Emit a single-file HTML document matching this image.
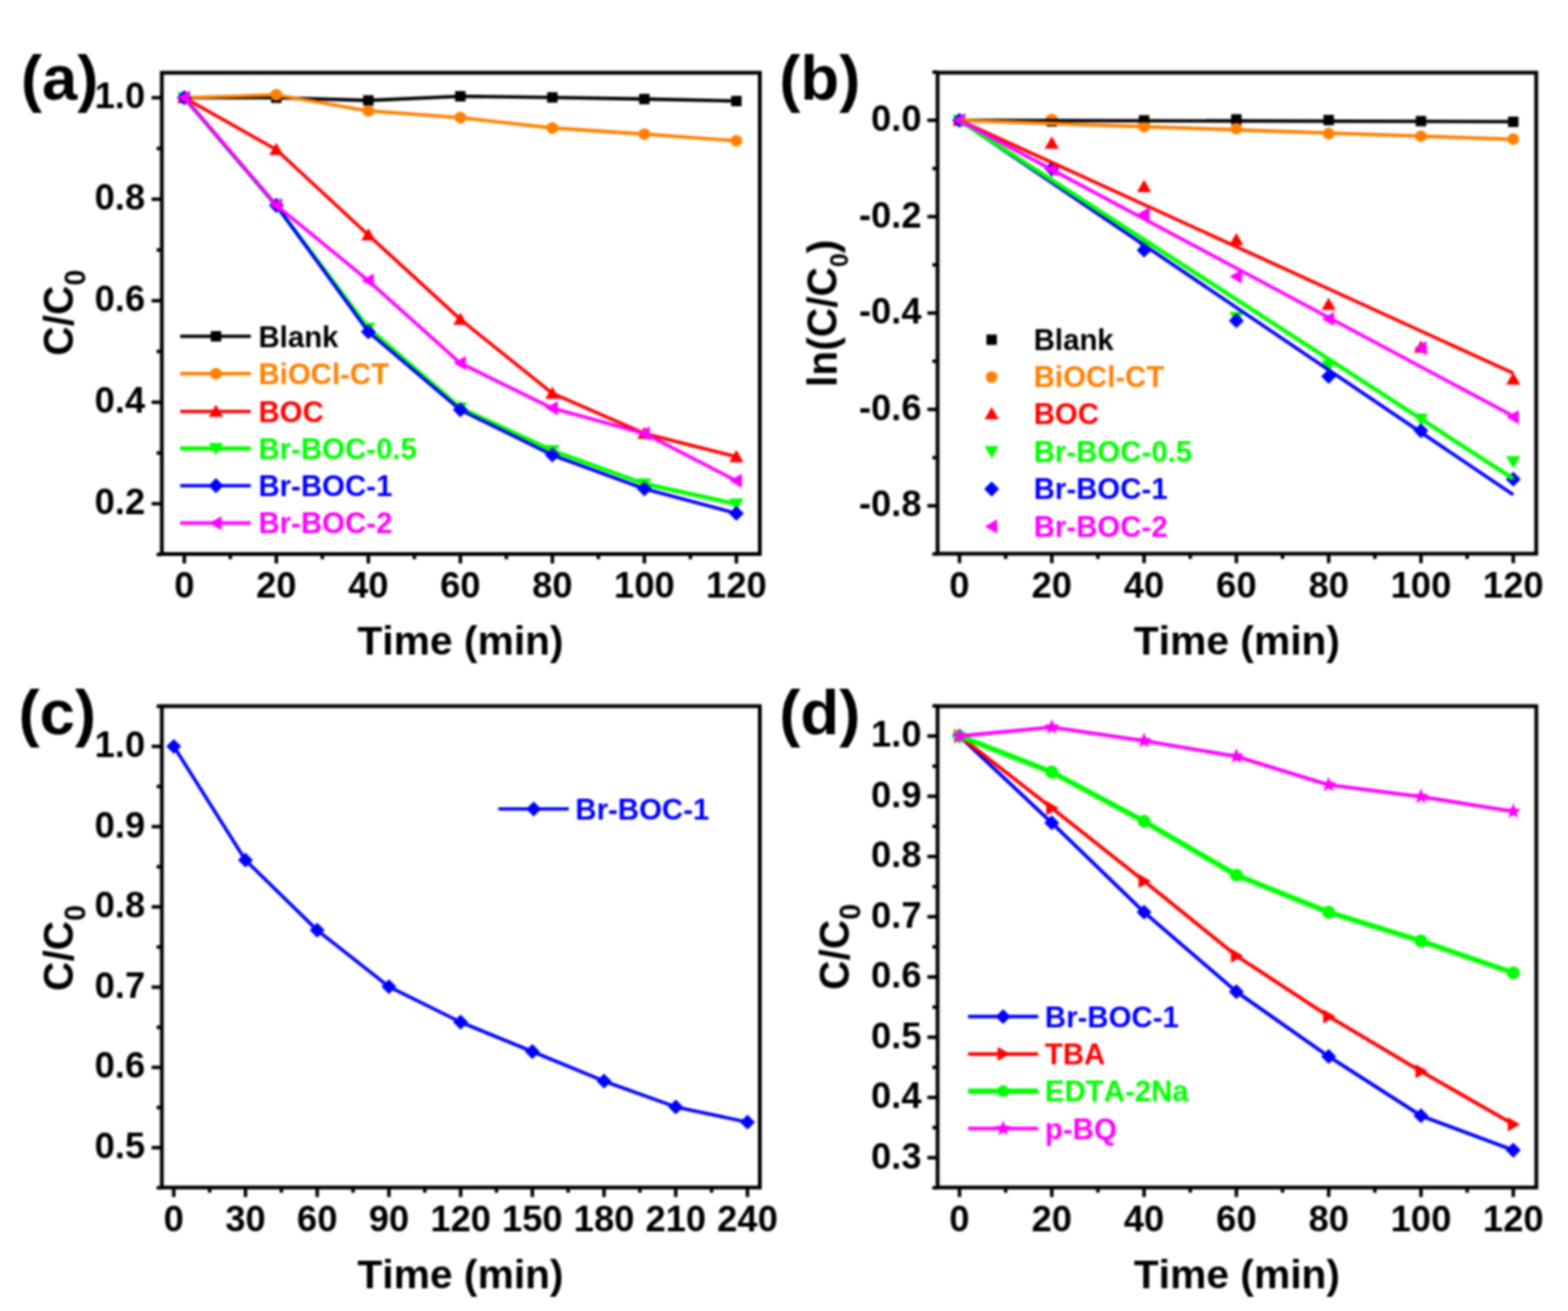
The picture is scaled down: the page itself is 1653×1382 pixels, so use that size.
<!DOCTYPE html>
<html lang="en">
<head>
<meta charset="utf-8">
<title>Photocatalytic degradation figure</title>
<style>
html,body{margin:0;padding:0;background:#fff;}
body{width:1653px;height:1382px;overflow:hidden;}
svg{display:block;}
svg text{font-family:"Liberation Sans", sans-serif;font-weight:bold;font-kerning:none;}
</style>
</head>
<body>
<svg width="1653" height="1382" viewBox="0 0 1653 1382">
<defs><filter id="soft" x="0" y="0" width="1653" height="1382" filterUnits="userSpaceOnUse" color-interpolation-filters="sRGB"><feGaussianBlur in="SourceGraphic" stdDeviation="1"/></filter></defs>
<rect x="0" y="0" width="1653" height="1382" fill="#ffffff"/>
<g filter="url(#soft)">
<rect x="0" y="0" width="1653" height="1382" fill="#ffffff"/>
<g id="panel-a">
<polyline points="194.3,103 291.3,103 388.3,105.9 485.3,101.5 582.3,102.7 679.3,104.4 776.3,106.5" fill="none" stroke="#000000" stroke-width="3.6" stroke-linejoin="round"/>
<rect x="188.8" y="97.5" width="11" height="11" fill="#000000"/>
<rect x="285.8" y="97.5" width="11" height="11" fill="#000000"/>
<rect x="382.8" y="100.4" width="11" height="11" fill="#000000"/>
<rect x="479.8" y="96" width="11" height="11" fill="#000000"/>
<rect x="576.8" y="97.2" width="11" height="11" fill="#000000"/>
<rect x="673.8" y="98.9" width="11" height="11" fill="#000000"/>
<rect x="770.8" y="101" width="11" height="11" fill="#000000"/>
<polyline points="194.3,103 291.3,99.9 388.3,116.9 485.3,124 582.3,134.9 679.3,141.4 776.3,148.4" fill="none" stroke="#FF8000" stroke-width="3.6" stroke-linejoin="round"/>
<circle cx="194.3" cy="103" r="6.2" fill="#FF8000"/>
<circle cx="291.3" cy="99.9" r="6.2" fill="#FF8000"/>
<circle cx="388.3" cy="116.9" r="6.2" fill="#FF8000"/>
<circle cx="485.3" cy="124" r="6.2" fill="#FF8000"/>
<circle cx="582.3" cy="134.9" r="6.2" fill="#FF8000"/>
<circle cx="679.3" cy="141.4" r="6.2" fill="#FF8000"/>
<circle cx="776.3" cy="148.4" r="6.2" fill="#FF8000"/>
<polyline points="194.3,103 291.3,157.8 388.3,247.7 485.3,336.7 582.3,414.6 679.3,456.9 776.3,481.4" fill="none" stroke="#FF0000" stroke-width="3.6" stroke-linejoin="round"/>
<polygon points="186.8,108.8 201.8,108.8 194.3,95.8" fill="#FF0000"/>
<polygon points="283.8,163.6 298.8,163.6 291.3,150.6" fill="#FF0000"/>
<polygon points="380.8,253.5 395.8,253.5 388.3,240.5" fill="#FF0000"/>
<polygon points="477.8,342.5 492.8,342.5 485.3,329.5" fill="#FF0000"/>
<polygon points="574.8,420.4 589.8,420.4 582.3,407.4" fill="#FF0000"/>
<polygon points="671.8,462.7 686.8,462.7 679.3,449.7" fill="#FF0000"/>
<polygon points="768.8,487.2 783.8,487.2 776.3,474.2" fill="#FF0000"/>
<polyline points="194.3,103 291.3,217 388.3,346 485.3,430 582.3,475 679.3,510 776.3,531.4" fill="none" stroke="#00FF00" stroke-width="4.4" stroke-linejoin="round"/>
<polygon points="186.8,97.2 201.8,97.2 194.3,110.2" fill="#00FF00"/>
<polygon points="283.8,211.2 298.8,211.2 291.3,224.2" fill="#00FF00"/>
<polygon points="380.8,340.2 395.8,340.2 388.3,353.2" fill="#00FF00"/>
<polygon points="477.8,424.2 492.8,424.2 485.3,437.2" fill="#00FF00"/>
<polygon points="574.8,469.2 589.8,469.2 582.3,482.2" fill="#00FF00"/>
<polygon points="671.8,504.2 686.8,504.2 679.3,517.2" fill="#00FF00"/>
<polygon points="768.8,525.6 783.8,525.6 776.3,538.6" fill="#00FF00"/>
<polyline points="194.3,103 291.3,216.5 388.3,349.8 485.3,432.1 582.3,479.7 679.3,515.3 776.3,541.2" fill="none" stroke="#0000FF" stroke-width="3.6" stroke-linejoin="round"/>
<polygon points="186.4,103 194.3,95.1 202.2,103 194.3,110.9" fill="#0000FF"/>
<polygon points="283.4,216.5 291.3,208.6 299.2,216.5 291.3,224.4" fill="#0000FF"/>
<polygon points="380.4,349.8 388.3,341.9 396.2,349.8 388.3,357.7" fill="#0000FF"/>
<polygon points="477.4,432.1 485.3,424.2 493.2,432.1 485.3,440" fill="#0000FF"/>
<polygon points="574.4,479.7 582.3,471.8 590.2,479.7 582.3,487.6" fill="#0000FF"/>
<polygon points="671.4,515.3 679.3,507.4 687.2,515.3 679.3,523.2" fill="#0000FF"/>
<polygon points="768.4,541.2 776.3,533.3 784.2,541.2 776.3,549.1" fill="#0000FF"/>
<polyline points="194.3,103 291.3,216.3 388.3,295.8 485.3,382.8 582.3,430.3 679.3,456.9 776.3,506.8" fill="none" stroke="#FF00FF" stroke-width="3.6" stroke-linejoin="round"/>
<polygon points="200.1,95.5 200.1,110.5 187.1,103" fill="#FF00FF"/>
<polygon points="297.1,208.8 297.1,223.8 284.1,216.3" fill="#FF00FF"/>
<polygon points="394.1,288.3 394.1,303.3 381.1,295.8" fill="#FF00FF"/>
<polygon points="491.1,375.3 491.1,390.3 478.1,382.8" fill="#FF00FF"/>
<polygon points="588.1,422.8 588.1,437.8 575.1,430.3" fill="#FF00FF"/>
<polygon points="685.1,449.4 685.1,464.4 672.1,456.9" fill="#FF00FF"/>
<polygon points="782.1,499.3 782.1,514.3 769.1,506.8" fill="#FF00FF"/>
<rect x="170.6" y="76.7" width="630.4" height="507.3" fill="none" stroke="#000" stroke-width="4.0"/>
<line x1="194.3" y1="584" x2="194.3" y2="594" stroke="#000" stroke-width="3.7"/>
<line x1="291.3" y1="584" x2="291.3" y2="594" stroke="#000" stroke-width="3.7"/>
<line x1="388.3" y1="584" x2="388.3" y2="594" stroke="#000" stroke-width="3.7"/>
<line x1="485.3" y1="584" x2="485.3" y2="594" stroke="#000" stroke-width="3.7"/>
<line x1="582.3" y1="584" x2="582.3" y2="594" stroke="#000" stroke-width="3.7"/>
<line x1="679.3" y1="584" x2="679.3" y2="594" stroke="#000" stroke-width="3.7"/>
<line x1="776.3" y1="584" x2="776.3" y2="594" stroke="#000" stroke-width="3.7"/>
<line x1="242.8" y1="584" x2="242.8" y2="589.5" stroke="#000" stroke-width="3.7"/>
<line x1="339.8" y1="584" x2="339.8" y2="589.5" stroke="#000" stroke-width="3.7"/>
<line x1="436.8" y1="584" x2="436.8" y2="589.5" stroke="#000" stroke-width="3.7"/>
<line x1="533.8" y1="584" x2="533.8" y2="589.5" stroke="#000" stroke-width="3.7"/>
<line x1="630.8" y1="584" x2="630.8" y2="589.5" stroke="#000" stroke-width="3.7"/>
<line x1="727.8" y1="584" x2="727.8" y2="589.5" stroke="#000" stroke-width="3.7"/>
<text x="194.3" y="630" font-size="38.3" text-anchor="middle">0</text>
<text x="291.3" y="630" font-size="38.3" text-anchor="middle">20</text>
<text x="388.3" y="630" font-size="38.3" text-anchor="middle">40</text>
<text x="485.3" y="630" font-size="38.3" text-anchor="middle">60</text>
<text x="582.3" y="630" font-size="38.3" text-anchor="middle">80</text>
<text x="679.3" y="630" font-size="38.3" text-anchor="middle">100</text>
<text x="776.3" y="630" font-size="38.3" text-anchor="middle">120</text>
<line x1="170.6" y1="103" x2="159.8" y2="103" stroke="#000" stroke-width="3.7"/>
<line x1="170.6" y1="210" x2="159.8" y2="210" stroke="#000" stroke-width="3.7"/>
<line x1="170.6" y1="317" x2="159.8" y2="317" stroke="#000" stroke-width="3.7"/>
<line x1="170.6" y1="424" x2="159.8" y2="424" stroke="#000" stroke-width="3.7"/>
<line x1="170.6" y1="531" x2="159.8" y2="531" stroke="#000" stroke-width="3.7"/>
<line x1="170.6" y1="156.5" x2="165.1" y2="156.5" stroke="#000" stroke-width="3.7"/>
<line x1="170.6" y1="263.5" x2="165.1" y2="263.5" stroke="#000" stroke-width="3.7"/>
<line x1="170.6" y1="370.5" x2="165.1" y2="370.5" stroke="#000" stroke-width="3.7"/>
<line x1="170.6" y1="477.5" x2="165.1" y2="477.5" stroke="#000" stroke-width="3.7"/>
<line x1="170.6" y1="584.5" x2="165.1" y2="584.5" stroke="#000" stroke-width="3.7"/>
<text x="153" y="114.2" font-size="38.3" text-anchor="end">1.0</text>
<text x="153" y="221.2" font-size="38.3" text-anchor="end">0.8</text>
<text x="153" y="328.2" font-size="38.3" text-anchor="end">0.6</text>
<text x="153" y="435.2" font-size="38.3" text-anchor="end">0.4</text>
<text x="153" y="542.2" font-size="38.3" text-anchor="end">0.2</text>
<line x1="190" y1="354.5" x2="264.4" y2="354.5" stroke="#000000" stroke-width="3.6"/>
<rect x="222.2" y="349" width="11" height="11" fill="#000000"/>
<text x="272.4" y="365.5" font-size="31" fill="#000000">Blank</text>
<line x1="190" y1="393.9" x2="264.4" y2="393.9" stroke="#FF8000" stroke-width="3.6"/>
<circle cx="227.7" cy="393.9" r="6.2" fill="#FF8000"/>
<text x="272.4" y="404.9" font-size="31" fill="#FF8000">BiOCl-CT</text>
<line x1="190" y1="433.8" x2="264.4" y2="433.8" stroke="#FF0000" stroke-width="3.6"/>
<polygon points="220.2,439.6 235.2,439.6 227.7,426.6" fill="#FF0000"/>
<text x="272.4" y="444.8" font-size="31" fill="#FF0000">BOC</text>
<line x1="190" y1="472.8" x2="264.4" y2="472.8" stroke="#00FF00" stroke-width="4.4"/>
<polygon points="220.2,467 235.2,467 227.7,480" fill="#00FF00"/>
<text x="272.4" y="483.8" font-size="31" fill="#00FF00">Br-BOC-0.5</text>
<line x1="190" y1="512" x2="264.4" y2="512" stroke="#0000FF" stroke-width="3.6"/>
<polygon points="219.8,512 227.7,504.1 235.6,512 227.7,519.9" fill="#0000FF"/>
<text x="272.4" y="523" font-size="31" fill="#0000FF">Br-BOC-1</text>
<line x1="190" y1="551.4" x2="264.4" y2="551.4" stroke="#FF00FF" stroke-width="3.6"/>
<polygon points="233.5,543.9 233.5,558.9 220.5,551.4" fill="#FF00FF"/>
<text x="272.4" y="562.4" font-size="31" fill="#FF00FF">Br-BOC-2</text>
<text x="485.5" y="689.8" font-size="43" text-anchor="middle">Time (min)</text>
<text transform="translate(77.3,329.6) rotate(-90) scale(1,1.03)" font-size="43" text-anchor="middle">C/C<tspan font-size="30" dy="12">0</tspan></text>
<text x="22" y="105" font-size="67">(a)</text>
</g>
<g id="panel-b">
<rect x="1006" y="121.3" width="11" height="11" fill="#000000"/>
<rect x="1103.3" y="122.4" width="11" height="11" fill="#000000"/>
<rect x="1200.6" y="121.4" width="11" height="11" fill="#000000"/>
<rect x="1297.9" y="120.4" width="11" height="11" fill="#000000"/>
<rect x="1395.2" y="121.1" width="11" height="11" fill="#000000"/>
<rect x="1492.5" y="122.2" width="11" height="11" fill="#000000"/>
<rect x="1589.8" y="122.9" width="11" height="11" fill="#000000"/>
<circle cx="1011.5" cy="126.8" r="6.2" fill="#FF8000"/>
<circle cx="1108.8" cy="125.9" r="6.2" fill="#FF8000"/>
<circle cx="1206.1" cy="133.5" r="6.2" fill="#FF8000"/>
<circle cx="1303.4" cy="135.6" r="6.2" fill="#FF8000"/>
<circle cx="1400.7" cy="140.8" r="6.2" fill="#FF8000"/>
<circle cx="1498" cy="143.6" r="6.2" fill="#FF8000"/>
<circle cx="1595.3" cy="146.7" r="6.2" fill="#FF8000"/>
<polygon points="1004,132.6 1019,132.6 1011.5,119.6" fill="#FF0000"/>
<polygon points="1101.3,156.7 1116.3,156.7 1108.8,143.7" fill="#FF0000"/>
<polygon points="1198.6,202.6 1213.6,202.6 1206.1,189.6" fill="#FF0000"/>
<polygon points="1295.9,258.5 1310.9,258.5 1303.4,245.5" fill="#FF0000"/>
<polygon points="1393.2,326.7 1408.2,326.7 1400.7,313.7" fill="#FF0000"/>
<polygon points="1490.5,371.7 1505.5,371.7 1498,358.7" fill="#FF0000"/>
<polygon points="1587.8,405.6 1602.8,405.6 1595.3,392.6" fill="#FF0000"/>
<polygon points="1004,121 1019,121 1011.5,134" fill="#00FF00"/>
<polygon points="1101.3,174.7 1116.3,174.7 1108.8,187.7" fill="#00FF00"/>
<polygon points="1198.6,253.7 1213.6,253.7 1206.1,266.7" fill="#00FF00"/>
<polygon points="1295.9,328.7 1310.9,328.7 1303.4,341.7" fill="#00FF00"/>
<polygon points="1393.2,379.7 1408.2,379.7 1400.7,392.7" fill="#00FF00"/>
<polygon points="1490.5,435.9 1505.5,435.9 1498,448.9" fill="#00FF00"/>
<polygon points="1587.8,480.8 1602.8,480.8 1595.3,493.8" fill="#00FF00"/>
<polygon points="1003.6,126.8 1011.5,118.9 1019.4,126.8 1011.5,134.7" fill="#0000FF"/>
<polygon points="1100.9,177.8 1108.8,169.9 1116.7,177.8 1108.8,185.7" fill="#0000FF"/>
<polygon points="1198.2,263.7 1206.1,255.8 1214,263.7 1206.1,271.6" fill="#0000FF"/>
<polygon points="1295.5,338.2 1303.4,330.3 1311.3,338.2 1303.4,346.1" fill="#0000FF"/>
<polygon points="1392.8,396.8 1400.7,388.9 1408.6,396.8 1400.7,404.7" fill="#0000FF"/>
<polygon points="1490.1,454.1 1498,446.2 1505.9,454.1 1498,462" fill="#0000FF"/>
<polygon points="1587.4,505.2 1595.3,497.3 1603.2,505.2 1595.3,513.1" fill="#0000FF"/>
<polygon points="1017.3,119.3 1017.3,134.3 1004.3,126.8" fill="#FF00FF"/>
<polygon points="1114.6,171.3 1114.6,186.3 1101.6,178.8" fill="#FF00FF"/>
<polygon points="1211.9,218.2 1211.9,233.2 1198.9,225.7" fill="#FF00FF"/>
<polygon points="1309.2,284.1 1309.2,299.1 1296.2,291.6" fill="#FF00FF"/>
<polygon points="1406.5,328.8 1406.5,343.8 1393.5,336.3" fill="#FF00FF"/>
<polygon points="1503.8,359.4 1503.8,374.4 1490.8,366.9" fill="#FF00FF"/>
<polygon points="1601.1,432.2 1601.1,447.2 1588.1,439.7" fill="#FF00FF"/>
<line x1="1011.5" y1="126.8" x2="1595.3" y2="128.2" stroke="#000000" stroke-width="3.6"/>
<line x1="1011.5" y1="126.8" x2="1595.3" y2="146.9" stroke="#FF8000" stroke-width="3.6"/>
<line x1="1011.5" y1="126.8" x2="1595.3" y2="393.4" stroke="#FF0000" stroke-width="3.6"/>
<line x1="1011.5" y1="126.8" x2="1595.3" y2="521.6" stroke="#0000FF" stroke-width="3.6"/>
<line x1="1011.5" y1="126.8" x2="1595.3" y2="504.6" stroke="#00FF00" stroke-width="4.4"/>
<line x1="1011.5" y1="126.8" x2="1595.3" y2="438.7" stroke="#FF00FF" stroke-width="3.6"/>
<rect x="988.4" y="76.6" width="631.1" height="507.1" fill="none" stroke="#000" stroke-width="4.0"/>
<line x1="1011.5" y1="583.7" x2="1011.5" y2="593.7" stroke="#000" stroke-width="3.7"/>
<line x1="1108.8" y1="583.7" x2="1108.8" y2="593.7" stroke="#000" stroke-width="3.7"/>
<line x1="1206.1" y1="583.7" x2="1206.1" y2="593.7" stroke="#000" stroke-width="3.7"/>
<line x1="1303.4" y1="583.7" x2="1303.4" y2="593.7" stroke="#000" stroke-width="3.7"/>
<line x1="1400.7" y1="583.7" x2="1400.7" y2="593.7" stroke="#000" stroke-width="3.7"/>
<line x1="1498" y1="583.7" x2="1498" y2="593.7" stroke="#000" stroke-width="3.7"/>
<line x1="1595.3" y1="583.7" x2="1595.3" y2="593.7" stroke="#000" stroke-width="3.7"/>
<line x1="1060.15" y1="583.7" x2="1060.15" y2="589.2" stroke="#000" stroke-width="3.7"/>
<line x1="1157.45" y1="583.7" x2="1157.45" y2="589.2" stroke="#000" stroke-width="3.7"/>
<line x1="1254.75" y1="583.7" x2="1254.75" y2="589.2" stroke="#000" stroke-width="3.7"/>
<line x1="1352.05" y1="583.7" x2="1352.05" y2="589.2" stroke="#000" stroke-width="3.7"/>
<line x1="1449.35" y1="583.7" x2="1449.35" y2="589.2" stroke="#000" stroke-width="3.7"/>
<line x1="1546.65" y1="583.7" x2="1546.65" y2="589.2" stroke="#000" stroke-width="3.7"/>
<text x="1011.5" y="630" font-size="38.3" text-anchor="middle">0</text>
<text x="1108.8" y="630" font-size="38.3" text-anchor="middle">20</text>
<text x="1206.1" y="630" font-size="38.3" text-anchor="middle">40</text>
<text x="1303.4" y="630" font-size="38.3" text-anchor="middle">60</text>
<text x="1400.7" y="630" font-size="38.3" text-anchor="middle">80</text>
<text x="1498" y="630" font-size="38.3" text-anchor="middle">100</text>
<text x="1595.3" y="630" font-size="38.3" text-anchor="middle">120</text>
<line x1="988.4" y1="126.8" x2="977.6" y2="126.8" stroke="#000" stroke-width="3.7"/>
<line x1="988.4" y1="228.4" x2="977.6" y2="228.4" stroke="#000" stroke-width="3.7"/>
<line x1="988.4" y1="330" x2="977.6" y2="330" stroke="#000" stroke-width="3.7"/>
<line x1="988.4" y1="431.6" x2="977.6" y2="431.6" stroke="#000" stroke-width="3.7"/>
<line x1="988.4" y1="533.2" x2="977.6" y2="533.2" stroke="#000" stroke-width="3.7"/>
<line x1="988.4" y1="76" x2="982.9" y2="76" stroke="#000" stroke-width="3.7"/>
<line x1="988.4" y1="177.6" x2="982.9" y2="177.6" stroke="#000" stroke-width="3.7"/>
<line x1="988.4" y1="279.2" x2="982.9" y2="279.2" stroke="#000" stroke-width="3.7"/>
<line x1="988.4" y1="380.8" x2="982.9" y2="380.8" stroke="#000" stroke-width="3.7"/>
<line x1="988.4" y1="482.4" x2="982.9" y2="482.4" stroke="#000" stroke-width="3.7"/>
<line x1="988.4" y1="584" x2="982.9" y2="584" stroke="#000" stroke-width="3.7"/>
<text x="971.5" y="138" font-size="38.3" text-anchor="end">0.0</text>
<text x="971.5" y="239.6" font-size="38.3" text-anchor="end">-0.2</text>
<text x="971.5" y="341.2" font-size="38.3" text-anchor="end">-0.4</text>
<text x="971.5" y="442.8" font-size="38.3" text-anchor="end">-0.6</text>
<text x="971.5" y="544.4" font-size="38.3" text-anchor="end">-0.8</text>
<rect x="1039.9" y="352.6" width="11" height="11" fill="#000000"/>
<text x="1089.7" y="368.6" font-size="31" fill="#000000">Blank</text>
<circle cx="1045.4" cy="397.5" r="6.2" fill="#FF8000"/>
<text x="1089.7" y="408" font-size="31" fill="#FF8000">BiOCl-CT</text>
<polygon points="1037.9,442 1052.9,442 1045.4,429" fill="#FF0000"/>
<text x="1089.7" y="446.7" font-size="31" fill="#FF0000">BOC</text>
<polygon points="1037.9,470.2 1052.9,470.2 1045.4,483.2" fill="#00FF00"/>
<text x="1089.7" y="486.5" font-size="31" fill="#00FF00">Br-BOC-0.5</text>
<polygon points="1037.5,515.5 1045.4,507.6 1053.3,515.5 1045.4,523.4" fill="#0000FF"/>
<text x="1089.7" y="526" font-size="31" fill="#0000FF">Br-BOC-1</text>
<polygon points="1051.2,547.5 1051.2,562.5 1038.2,555" fill="#FF00FF"/>
<text x="1089.7" y="565.5" font-size="31" fill="#FF00FF">Br-BOC-2</text>
<text x="1304" y="689.8" font-size="43" text-anchor="middle">Time (min)</text>
<text transform="translate(881.8,330.4) rotate(-90) scale(1,1.03)" font-size="43" text-anchor="middle">ln(C/C<tspan font-size="26" dy="12">0</tspan><tspan dy="-12">)</tspan></text>
<text x="821.5" y="105" font-size="67">(b)</text>
</g>
<g id="panel-c">
<polyline points="183.2,786.8 258.8,906.7 334.4,980.6 410,1040.1 485.6,1077.5 561.2,1108.5 636.8,1139.7 712.4,1166.9 788,1182.9" fill="none" stroke="#0000FF" stroke-width="3.6" stroke-linejoin="round"/>
<polygon points="175.3,786.8 183.2,778.9 191.1,786.8 183.2,794.7" fill="#0000FF"/>
<polygon points="250.9,906.7 258.8,898.8 266.7,906.7 258.8,914.6" fill="#0000FF"/>
<polygon points="326.5,980.6 334.4,972.7 342.3,980.6 334.4,988.5" fill="#0000FF"/>
<polygon points="402.1,1040.1 410,1032.2 417.9,1040.1 410,1048" fill="#0000FF"/>
<polygon points="477.7,1077.5 485.6,1069.6 493.5,1077.5 485.6,1085.4" fill="#0000FF"/>
<polygon points="553.3,1108.5 561.2,1100.6 569.1,1108.5 561.2,1116.4" fill="#0000FF"/>
<polygon points="628.9,1139.7 636.8,1131.8 644.7,1139.7 636.8,1147.6" fill="#0000FF"/>
<polygon points="704.5,1166.9 712.4,1159 720.3,1166.9 712.4,1174.8" fill="#0000FF"/>
<polygon points="780.1,1182.9 788,1175 795.9,1182.9 788,1190.8" fill="#0000FF"/>
<rect x="170.6" y="744.4" width="630.4" height="507.4" fill="none" stroke="#000" stroke-width="4.0"/>
<line x1="183.2" y1="1251.8" x2="183.2" y2="1261.8" stroke="#000" stroke-width="3.7"/>
<line x1="258.8" y1="1251.8" x2="258.8" y2="1261.8" stroke="#000" stroke-width="3.7"/>
<line x1="334.4" y1="1251.8" x2="334.4" y2="1261.8" stroke="#000" stroke-width="3.7"/>
<line x1="410" y1="1251.8" x2="410" y2="1261.8" stroke="#000" stroke-width="3.7"/>
<line x1="485.6" y1="1251.8" x2="485.6" y2="1261.8" stroke="#000" stroke-width="3.7"/>
<line x1="561.2" y1="1251.8" x2="561.2" y2="1261.8" stroke="#000" stroke-width="3.7"/>
<line x1="636.8" y1="1251.8" x2="636.8" y2="1261.8" stroke="#000" stroke-width="3.7"/>
<line x1="712.4" y1="1251.8" x2="712.4" y2="1261.8" stroke="#000" stroke-width="3.7"/>
<line x1="788" y1="1251.8" x2="788" y2="1261.8" stroke="#000" stroke-width="3.7"/>
<line x1="221" y1="1251.8" x2="221" y2="1257.3" stroke="#000" stroke-width="3.7"/>
<line x1="296.6" y1="1251.8" x2="296.6" y2="1257.3" stroke="#000" stroke-width="3.7"/>
<line x1="372.2" y1="1251.8" x2="372.2" y2="1257.3" stroke="#000" stroke-width="3.7"/>
<line x1="447.8" y1="1251.8" x2="447.8" y2="1257.3" stroke="#000" stroke-width="3.7"/>
<line x1="523.4" y1="1251.8" x2="523.4" y2="1257.3" stroke="#000" stroke-width="3.7"/>
<line x1="599" y1="1251.8" x2="599" y2="1257.3" stroke="#000" stroke-width="3.7"/>
<line x1="674.6" y1="1251.8" x2="674.6" y2="1257.3" stroke="#000" stroke-width="3.7"/>
<line x1="750.2" y1="1251.8" x2="750.2" y2="1257.3" stroke="#000" stroke-width="3.7"/>
<text x="183.2" y="1298" font-size="38.3" text-anchor="middle">0</text>
<text x="258.8" y="1298" font-size="38.3" text-anchor="middle">30</text>
<text x="334.4" y="1298" font-size="38.3" text-anchor="middle">60</text>
<text x="410" y="1298" font-size="38.3" text-anchor="middle">90</text>
<text x="485.6" y="1298" font-size="38.3" text-anchor="middle">120</text>
<text x="561.2" y="1298" font-size="38.3" text-anchor="middle">150</text>
<text x="636.8" y="1298" font-size="38.3" text-anchor="middle">180</text>
<text x="712.4" y="1298" font-size="38.3" text-anchor="middle">210</text>
<text x="788" y="1298" font-size="38.3" text-anchor="middle">240</text>
<line x1="170.6" y1="786.8" x2="159.8" y2="786.8" stroke="#000" stroke-width="3.7"/>
<line x1="170.6" y1="871.4" x2="159.8" y2="871.4" stroke="#000" stroke-width="3.7"/>
<line x1="170.6" y1="956" x2="159.8" y2="956" stroke="#000" stroke-width="3.7"/>
<line x1="170.6" y1="1040.6" x2="159.8" y2="1040.6" stroke="#000" stroke-width="3.7"/>
<line x1="170.6" y1="1125.2" x2="159.8" y2="1125.2" stroke="#000" stroke-width="3.7"/>
<line x1="170.6" y1="1209.8" x2="159.8" y2="1209.8" stroke="#000" stroke-width="3.7"/>
<line x1="170.6" y1="744.5" x2="165.1" y2="744.5" stroke="#000" stroke-width="3.7"/>
<line x1="170.6" y1="829.1" x2="165.1" y2="829.1" stroke="#000" stroke-width="3.7"/>
<line x1="170.6" y1="913.7" x2="165.1" y2="913.7" stroke="#000" stroke-width="3.7"/>
<line x1="170.6" y1="998.3" x2="165.1" y2="998.3" stroke="#000" stroke-width="3.7"/>
<line x1="170.6" y1="1082.9" x2="165.1" y2="1082.9" stroke="#000" stroke-width="3.7"/>
<line x1="170.6" y1="1167.5" x2="165.1" y2="1167.5" stroke="#000" stroke-width="3.7"/>
<line x1="170.6" y1="1252.1" x2="165.1" y2="1252.1" stroke="#000" stroke-width="3.7"/>
<text x="153" y="798" font-size="38.3" text-anchor="end">1.0</text>
<text x="153" y="882.6" font-size="38.3" text-anchor="end">0.9</text>
<text x="153" y="967.2" font-size="38.3" text-anchor="end">0.8</text>
<text x="153" y="1051.8" font-size="38.3" text-anchor="end">0.7</text>
<text x="153" y="1136.4" font-size="38.3" text-anchor="end">0.6</text>
<text x="153" y="1221" font-size="38.3" text-anchor="end">0.5</text>
<line x1="525.4" y1="852.8" x2="599.5" y2="852.8" stroke="#0000FF" stroke-width="3.6"/>
<polygon points="554.7,852.8 562.6,844.9 570.5,852.8 562.6,860.7" fill="#0000FF"/>
<text x="606.5" y="863.8" font-size="31" fill="#0000FF">Br-BOC-1</text>
<text x="485.5" y="1357.5" font-size="43" text-anchor="middle">Time (min)</text>
<text transform="translate(77.3,999.3) rotate(-90) scale(1,1.03)" font-size="43" text-anchor="middle">C/C<tspan font-size="30" dy="12">0</tspan></text>
<text x="19.5" y="774" font-size="67">(c)</text>
</g>
<g id="panel-d">
<polyline points="1011.5,775.9 1108.8,867.4 1206.1,961.6 1303.4,1045.4 1400.7,1113.7 1498,1176.2 1595.3,1212.5" fill="none" stroke="#0000FF" stroke-width="3.8" stroke-linejoin="round"/>
<polygon points="1003.6,775.9 1011.5,768 1019.4,775.9 1011.5,783.8" fill="#0000FF"/>
<polygon points="1100.9,867.4 1108.8,859.5 1116.7,867.4 1108.8,875.3" fill="#0000FF"/>
<polygon points="1198.2,961.6 1206.1,953.7 1214,961.6 1206.1,969.5" fill="#0000FF"/>
<polygon points="1295.5,1045.4 1303.4,1037.5 1311.3,1045.4 1303.4,1053.3" fill="#0000FF"/>
<polygon points="1392.8,1113.7 1400.7,1105.8 1408.6,1113.7 1400.7,1121.6" fill="#0000FF"/>
<polygon points="1490.1,1176.2 1498,1168.3 1505.9,1176.2 1498,1184.1" fill="#0000FF"/>
<polygon points="1587.4,1212.5 1595.3,1204.6 1603.2,1212.5 1595.3,1220.4" fill="#0000FF"/>
<polyline points="1011.5,775.9 1108.8,851.8 1206.1,928.7 1303.4,1007.5 1400.7,1071.4 1498,1129.3 1595.3,1185.2" fill="none" stroke="#FF0000" stroke-width="3.8" stroke-linejoin="round"/>
<polygon points="1005.7,768.4 1005.7,783.4 1018.7,775.9" fill="#FF0000"/>
<polygon points="1103,844.3 1103,859.3 1116,851.8" fill="#FF0000"/>
<polygon points="1200.3,921.2 1200.3,936.2 1213.3,928.7" fill="#FF0000"/>
<polygon points="1297.6,1000 1297.6,1015 1310.6,1007.5" fill="#FF0000"/>
<polygon points="1394.9,1063.9 1394.9,1078.9 1407.9,1071.4" fill="#FF0000"/>
<polygon points="1492.2,1121.8 1492.2,1136.8 1505.2,1129.3" fill="#FF0000"/>
<polygon points="1589.5,1177.7 1589.5,1192.7 1602.5,1185.2" fill="#FF0000"/>
<polyline points="1011.5,775.9 1108.8,813.9 1206.1,865.8 1303.4,922.5 1400.7,961.6 1498,991.9 1595.3,1025.5" fill="none" stroke="#00FF00" stroke-width="5.5" stroke-linejoin="round"/>
<circle cx="1011.5" cy="775.9" r="6.82" fill="#00FF00"/>
<circle cx="1108.8" cy="813.9" r="6.82" fill="#00FF00"/>
<circle cx="1206.1" cy="865.8" r="6.82" fill="#00FF00"/>
<circle cx="1303.4" cy="922.5" r="6.82" fill="#00FF00"/>
<circle cx="1400.7" cy="961.6" r="6.82" fill="#00FF00"/>
<circle cx="1498" cy="991.9" r="6.82" fill="#00FF00"/>
<circle cx="1595.3" cy="1025.5" r="6.82" fill="#00FF00"/>
<polyline points="1011.5,775.9 1108.8,766.6 1206.1,780.9 1303.4,797.4 1400.7,827.4 1498,839.8 1595.3,855.4" fill="none" stroke="#FF00FF" stroke-width="3.8" stroke-linejoin="round"/>
<polygon points="1011.5,767.3 1013.73,772.83 1019.68,773.24 1015.11,777.07 1016.55,782.86 1011.5,779.7 1006.45,782.86 1007.89,777.07 1003.32,773.24 1009.27,772.83" fill="#FF00FF"/>
<polygon points="1108.8,758 1111.03,763.53 1116.98,763.94 1112.41,767.77 1113.85,773.56 1108.8,770.4 1103.75,773.56 1105.19,767.77 1100.62,763.94 1106.57,763.53" fill="#FF00FF"/>
<polygon points="1206.1,772.3 1208.33,777.83 1214.28,778.24 1209.71,782.07 1211.15,787.86 1206.1,784.7 1201.05,787.86 1202.49,782.07 1197.92,778.24 1203.87,777.83" fill="#FF00FF"/>
<polygon points="1303.4,788.8 1305.63,794.33 1311.58,794.74 1307.01,798.57 1308.45,804.36 1303.4,801.2 1298.35,804.36 1299.79,798.57 1295.22,794.74 1301.17,794.33" fill="#FF00FF"/>
<polygon points="1400.7,818.8 1402.93,824.33 1408.88,824.74 1404.31,828.57 1405.75,834.36 1400.7,831.2 1395.65,834.36 1397.09,828.57 1392.52,824.74 1398.47,824.33" fill="#FF00FF"/>
<polygon points="1498,831.2 1500.23,836.73 1506.18,837.14 1501.61,840.97 1503.05,846.76 1498,843.6 1492.95,846.76 1494.39,840.97 1489.82,837.14 1495.77,836.73" fill="#FF00FF"/>
<polygon points="1595.3,846.8 1597.53,852.33 1603.48,852.74 1598.91,856.57 1600.35,862.36 1595.3,859.2 1590.25,862.36 1591.69,856.57 1587.12,852.74 1593.07,852.33" fill="#FF00FF"/>
<rect x="988.4" y="744.4" width="631.2" height="507.4" fill="none" stroke="#000" stroke-width="4.0"/>
<line x1="1011.5" y1="1251.8" x2="1011.5" y2="1261.8" stroke="#000" stroke-width="3.7"/>
<line x1="1108.8" y1="1251.8" x2="1108.8" y2="1261.8" stroke="#000" stroke-width="3.7"/>
<line x1="1206.1" y1="1251.8" x2="1206.1" y2="1261.8" stroke="#000" stroke-width="3.7"/>
<line x1="1303.4" y1="1251.8" x2="1303.4" y2="1261.8" stroke="#000" stroke-width="3.7"/>
<line x1="1400.7" y1="1251.8" x2="1400.7" y2="1261.8" stroke="#000" stroke-width="3.7"/>
<line x1="1498" y1="1251.8" x2="1498" y2="1261.8" stroke="#000" stroke-width="3.7"/>
<line x1="1595.3" y1="1251.8" x2="1595.3" y2="1261.8" stroke="#000" stroke-width="3.7"/>
<line x1="1060.15" y1="1251.8" x2="1060.15" y2="1257.3" stroke="#000" stroke-width="3.7"/>
<line x1="1157.45" y1="1251.8" x2="1157.45" y2="1257.3" stroke="#000" stroke-width="3.7"/>
<line x1="1254.75" y1="1251.8" x2="1254.75" y2="1257.3" stroke="#000" stroke-width="3.7"/>
<line x1="1352.05" y1="1251.8" x2="1352.05" y2="1257.3" stroke="#000" stroke-width="3.7"/>
<line x1="1449.35" y1="1251.8" x2="1449.35" y2="1257.3" stroke="#000" stroke-width="3.7"/>
<line x1="1546.65" y1="1251.8" x2="1546.65" y2="1257.3" stroke="#000" stroke-width="3.7"/>
<text x="1011.5" y="1298" font-size="38.3" text-anchor="middle">0</text>
<text x="1108.8" y="1298" font-size="38.3" text-anchor="middle">20</text>
<text x="1206.1" y="1298" font-size="38.3" text-anchor="middle">40</text>
<text x="1303.4" y="1298" font-size="38.3" text-anchor="middle">60</text>
<text x="1400.7" y="1298" font-size="38.3" text-anchor="middle">80</text>
<text x="1498" y="1298" font-size="38.3" text-anchor="middle">100</text>
<text x="1595.3" y="1298" font-size="38.3" text-anchor="middle">120</text>
<line x1="988.4" y1="775.9" x2="977.6" y2="775.9" stroke="#000" stroke-width="3.7"/>
<line x1="988.4" y1="839.4" x2="977.6" y2="839.4" stroke="#000" stroke-width="3.7"/>
<line x1="988.4" y1="902.9" x2="977.6" y2="902.9" stroke="#000" stroke-width="3.7"/>
<line x1="988.4" y1="966.4" x2="977.6" y2="966.4" stroke="#000" stroke-width="3.7"/>
<line x1="988.4" y1="1029.9" x2="977.6" y2="1029.9" stroke="#000" stroke-width="3.7"/>
<line x1="988.4" y1="1093.4" x2="977.6" y2="1093.4" stroke="#000" stroke-width="3.7"/>
<line x1="988.4" y1="1156.9" x2="977.6" y2="1156.9" stroke="#000" stroke-width="3.7"/>
<line x1="988.4" y1="1220.4" x2="977.6" y2="1220.4" stroke="#000" stroke-width="3.7"/>
<line x1="988.4" y1="744.15" x2="982.9" y2="744.15" stroke="#000" stroke-width="3.7"/>
<line x1="988.4" y1="807.65" x2="982.9" y2="807.65" stroke="#000" stroke-width="3.7"/>
<line x1="988.4" y1="871.15" x2="982.9" y2="871.15" stroke="#000" stroke-width="3.7"/>
<line x1="988.4" y1="934.65" x2="982.9" y2="934.65" stroke="#000" stroke-width="3.7"/>
<line x1="988.4" y1="998.15" x2="982.9" y2="998.15" stroke="#000" stroke-width="3.7"/>
<line x1="988.4" y1="1061.65" x2="982.9" y2="1061.65" stroke="#000" stroke-width="3.7"/>
<line x1="988.4" y1="1125.15" x2="982.9" y2="1125.15" stroke="#000" stroke-width="3.7"/>
<line x1="988.4" y1="1188.65" x2="982.9" y2="1188.65" stroke="#000" stroke-width="3.7"/>
<line x1="988.4" y1="1252.15" x2="982.9" y2="1252.15" stroke="#000" stroke-width="3.7"/>
<text x="971.5" y="787.1" font-size="38.3" text-anchor="end">1.0</text>
<text x="971.5" y="850.6" font-size="38.3" text-anchor="end">0.9</text>
<text x="971.5" y="914.1" font-size="38.3" text-anchor="end">0.8</text>
<text x="971.5" y="977.6" font-size="38.3" text-anchor="end">0.7</text>
<text x="971.5" y="1041.1" font-size="38.3" text-anchor="end">0.6</text>
<text x="971.5" y="1104.6" font-size="38.3" text-anchor="end">0.5</text>
<text x="971.5" y="1168.1" font-size="38.3" text-anchor="end">0.4</text>
<text x="971.5" y="1231.6" font-size="38.3" text-anchor="end">0.3</text>
<line x1="1020.5" y1="1071.7" x2="1094.4" y2="1071.7" stroke="#0000FF" stroke-width="3.8"/>
<polygon points="1049.6,1071.7 1057.5,1063.8 1065.4,1071.7 1057.5,1079.6" fill="#0000FF"/>
<text x="1101.5" y="1082.7" font-size="31" fill="#0000FF">Br-BOC-1</text>
<line x1="1020.5" y1="1111.1" x2="1094.4" y2="1111.1" stroke="#FF0000" stroke-width="3.8"/>
<polygon points="1051.7,1103.6 1051.7,1118.6 1064.7,1111.1" fill="#FF0000"/>
<text x="1101.5" y="1122.1" font-size="31" fill="#FF0000">TBA</text>
<line x1="1020.5" y1="1150.3" x2="1094.4" y2="1150.3" stroke="#00FF00" stroke-width="5.5"/>
<circle cx="1057.5" cy="1150.3" r="6.2" fill="#00FF00"/>
<text x="1101.5" y="1161.3" font-size="31" fill="#00FF00">EDTA-2Na</text>
<line x1="1020.5" y1="1189.7" x2="1094.4" y2="1189.7" stroke="#FF00FF" stroke-width="3.8"/>
<polygon points="1057.5,1181.1 1059.73,1186.63 1065.68,1187.04 1061.11,1190.87 1062.55,1196.66 1057.5,1193.5 1052.45,1196.66 1053.89,1190.87 1049.32,1187.04 1055.27,1186.63" fill="#FF00FF"/>
<text x="1101.5" y="1200.7" font-size="31" fill="#FF00FF">p-BQ</text>
<text x="1304" y="1357.5" font-size="43" text-anchor="middle">Time (min)</text>
<text transform="translate(894.5,998.2) rotate(-90) scale(1,1.03)" font-size="43" text-anchor="middle">C/C<tspan font-size="30" dy="12">0</tspan></text>
<text x="821.5" y="774" font-size="67">(d)</text>
</g>
</g>
</svg>
</body>
</html>
